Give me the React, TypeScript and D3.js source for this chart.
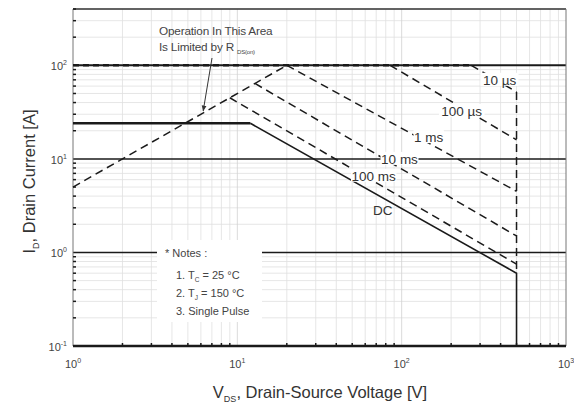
import React from 'react';
import * as d3 from 'd3';

const W = 574;
const H = 405;
const box = { left: 73, right: 566, top: 9, bottom: 346 };

// axis ranges
const xDomain = [1, 1000];
const yDomain = [0.1, 400];
const xTickExp = [0, 1, 2, 3];
const yTickExp = [-1, 0, 1, 2];

// R_DS(on) limit and package current limit (V_DS [V], I_D [A])
const rdsV = [1, 20];
const rdsI = [5, 100];
const idMaxV = [1, 265];
const idMaxI = [100, 100];

// pulse lines
const pulseNames = ['10 µs', '100 µs', '1 ms', '10 ms', '100 ms'];
const pulseStartV = [265, 85, 20, 12.8, 9];
const pulseStartI = [100, 100, 100, 64, 45];
const pulseEndV = [500, 500, 500, 500, 500];
const pulseEndI = [52, 16, 4.5, 1.5, 0.75];
const pulseLabelV = [394, 232, 146, 97, 67.6];
const pulseLabelI = [70, 32.5, 17.1, 10, 6.6];

// DC line and breakdown limit
const dcV = [1, 12, 500, 500];
const dcI = [24, 24, 0.6, 0.1];
const bvV = [500, 500];
const bvI = [52, 0.6];
const dcLabelV = 76.7;
const dcLabelI = 2.84;

const notes = ['1. T', '2. T', '3. Single Pulse'];
const noteSubs = ['C', 'J', ''];
const noteTails = [' = 25 °C', ' = 150 °C', ''];

const font = '"Liberation Sans", Arial, sans-serif';

export default function App() {
  const x = d3.scaleLog().domain(xDomain).range([box.left, box.right]);
  const y = d3.scaleLog().domain(yDomain).range([box.bottom, box.top]);
  const line = d3.line<[number, number]>().x(d => x(d[0])).y(d => y(d[1]));
  const zip = (a: number[], b: number[]) => a.map((v, i) => [v, b[i]] as [number, number]);

  // minor values 2..9 for each decade
  const minorX: number[] = [];
  for (let e = 0; e < 3; e++) for (let k = 2; k <= 9; k++) minorX.push(k * Math.pow(10, e));
  const minorY: number[] = [];
  for (let e = -1; e < 3; e++) for (let k = 2; k <= 9; k++) {
    const v = k * Math.pow(10, e);
    if (v <= yDomain[1]) minorY.push(v);
  }

  const ink = '#1a1a1a';
  const dash = '8,5';

  return (
    <svg width={W} height={H} style={{ position: 'absolute', left: 0, top: 0, background: '#fff' }} fontFamily={font}>
      {/* light grid */}
      <g stroke="#e0e0e0" strokeWidth={0.8}>
        {minorX.map((v, i) => <line key={'gx' + i} x1={x(v)} x2={x(v)} y1={box.top} y2={box.bottom} />)}
        {minorY.map((v, i) => <line key={'gy' + i} x1={box.left} x2={box.right} y1={y(v)} y2={y(v)} />)}
        {[10, 100].map(v => <line key={'gmx' + v} x1={x(v)} x2={x(v)} y1={box.top} y2={box.bottom} stroke="#d2d2d2" />)}
      </g>

      {/* major horizontal lines */}
      {[1, 10, 100].map(v => (
        <line key={'mj' + v} x1={box.left} x2={box.right} y1={y(v)} y2={y(v)} stroke={ink} strokeWidth={v === 100 ? 2 : 1.5} />
      ))}

      {/* frame */}
      <line x1={box.left} x2={box.right} y1={box.top} y2={box.top} stroke="#333" strokeWidth={1.5} />
      <line x1={box.right} x2={box.right} y1={box.top} y2={box.bottom} stroke="#777" strokeWidth={1} />
      <line x1={box.left} x2={box.left} y1={box.top} y2={box.bottom} stroke="#777" strokeWidth={1} />

      {/* notes box background */}
      <rect x={157} y={240} width={105} height={82} fill="#fff" />

      {/* ticks */}
      <g stroke={ink} strokeWidth={1.5}>
        {minorY.map((v, i) => <line key={'ty' + i} x1={box.left} x2={box.left + 3} y1={y(v)} y2={y(v)} />)}
        {minorX.map((v, i) => <line key={'tx' + i} x1={x(v)} x2={x(v)} y1={box.bottom} y2={box.bottom - 3} />)}
      </g>

      {/* limits */}
      <path d={line(zip(rdsV, rdsI)) || ''} fill="none" stroke={ink} strokeWidth={1.5} strokeDasharray={dash} />
      <path d={line(zip(idMaxV, idMaxI)) || ''} fill="none" stroke={ink} strokeWidth={2.5} strokeDasharray="6,4" />
      {pulseNames.map((n, i) => (
        <path key={'p' + n} d={line([[pulseStartV[i], pulseStartI[i]], [pulseEndV[i], pulseEndI[i]]]) || ''}
          fill="none" stroke={ink} strokeWidth={1.5} strokeDasharray={dash} />
      ))}
      <path d={line(zip(bvV, bvI)) || ''} fill="none" stroke={ink} strokeWidth={1.5} strokeDasharray={dash} />
      <path d={line(zip(dcV.slice(0, 2), dcI.slice(0, 2))) || ''} fill="none" stroke={ink} strokeWidth={2.5} />
      <path d={line(zip(dcV.slice(1), dcI.slice(1))) || ''} fill="none" stroke={ink} strokeWidth={1.6} />

      {/* pulse labels */}
      {pulseNames.map((n, i) => {
        const cx = x(pulseLabelV[i]);
        const cy = y(pulseLabelI[i]);
        const w = n.length * 7.6;
        return (
          <g key={'l' + n}>
            <rect x={cx - w / 2} y={cy - 7} width={w} height={13} fill="#fff" />
            <text x={cx} y={cy + 5} textAnchor="middle" fontSize={13.5} fill="#333">{n}</text>
          </g>
        );
      })}
      <text x={x(dcLabelV)} y={y(dcLabelI) + 5} textAnchor="middle" fontSize={13.5} fill="#333">DC</text>

      {/* R_DS(on) annotation */}
      <text x={159} y={35} fontSize={11.8} fill="#444" letterSpacing={-0.2}>Operation In This Area</text>
      <text x={159} y={51} fontSize={11.8} fill="#444" letterSpacing={-0.2}>
        Is Limited by R
        <tspan fontSize={6} dx={3} dy={3}>DS(on)</tspan>
      </text>
      <defs>
        <marker id="arr" viewBox="0 0 10 10" refX={9} refY={5} markerWidth={6} markerHeight={6} orient="auto">
          <path d="M0,1 L10,5 L0,9 z" fill="#333" />
        </marker>
      </defs>
      <line x1={212} y1={58} x2={x(6.2)} y2={y(31) - 2} stroke="#333" strokeWidth={1} markerEnd="url(#arr)" />

      {/* notes */}
      <text x={165} y={257} fontSize={11} fill="#444">* Notes :</text>
      {notes.map((t, i) => (
        <text key={'n' + i} x={176} y={279 + i * 18} fontSize={11} fill="#444">
          {t}
          {noteSubs[i] && <tspan fontSize={6.5} dy={3}>{noteSubs[i]}</tspan>}
          {noteTails[i] && <tspan dy={noteSubs[i] ? -3 : 0}>{noteTails[i]}</tspan>}
        </text>
      ))}

      {/* bottom axis */}
      <line x1={box.left} x2={box.right} y1={box.bottom} y2={box.bottom} stroke={ink} strokeWidth={2.5} />

      {/* tick labels */}
      {xTickExp.map(e => (
        <text key={'xl' + e} x={x(Math.pow(10, e))} y={368} textAnchor="middle" fontSize={11} fill="#444">
          10<tspan fontSize={7} dy={-5}>{e}</tspan>
        </text>
      ))}
      {yTickExp.map(e => (
        <text key={'yl' + e} x={box.left - 6} y={y(Math.pow(10, e)) + 5} textAnchor="end" fontSize={11} fill="#444">
          10<tspan fontSize={7} dy={-5}>{e}</tspan>
        </text>
      ))}

      {/* axis titles */}
      <text x={320} y={398} textAnchor="middle" fontSize={16.5} fill="#333">
        V<tspan fontSize={9} dy={4}>DS</tspan><tspan dy={-4}>, Drain-Source Voltage [V]</tspan>
      </text>
      <text transform={`translate(35,${(box.top + box.bottom) / 2 + 4}) rotate(-90)`} textAnchor="middle" fontSize={16.5} fill="#333">
        I<tspan fontSize={9} dy={4}>D</tspan><tspan dy={-4}>, Drain Current [A]</tspan>
      </text>
    </svg>
  );
}
